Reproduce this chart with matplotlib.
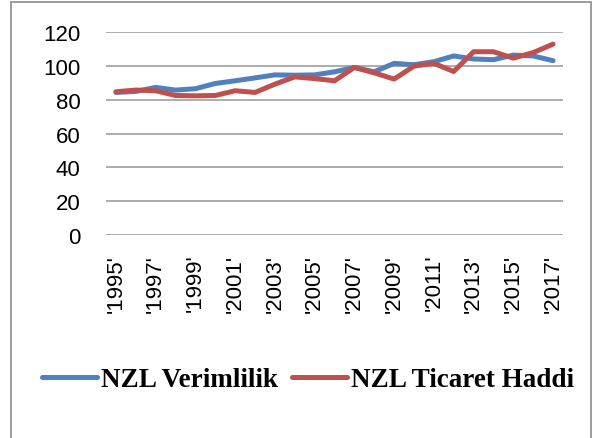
import matplotlib
matplotlib.use("Agg")
import matplotlib.pyplot as plt
from matplotlib.patches import Rectangle

years = list(range(1995, 2018))
verimlilik = [84.4, 85, 87.4, 85.8, 86.6, 89.7, 91.3, 93, 94.8, 94.6, 94.8, 96.6,
              99.2, 96.6, 101.6, 100.8, 102.6, 106, 104.2, 103.8, 106.5, 106, 103.2]
ticaret = [84.8, 85.8, 85.4, 82.6, 82.4, 82.6, 85.4, 84.4, 89.3, 93.6, 92.6, 91.3,
           99.2, 96, 92.3, 100, 101.6, 96.8, 108.5, 108.5, 104.7, 108, 113]
series_names = ["NZL Verimlilik", "NZL Ticaret Haddi"]
yticks = [0, 20, 40, 60, 80, 100, 120]

W, H = 598, 439
fig = plt.figure(figsize=(W / 100, H / 100), dpi=100)
ax = fig.add_axes([106 / W, 1 - 236 / H, (563 - 106) / W, (236 - 33.3) / H])

x = list(range(len(years)))
l1, = ax.plot(x, verimlilik, color="#4F81BD", lw=3.6, solid_capstyle="round",
              solid_joinstyle="round", label=series_names[0])
l2, = ax.plot(x, ticaret, color="#C0504D", lw=3.6, solid_capstyle="round",
              solid_joinstyle="round", label=series_names[1])

ax.set_xlim(-0.5, len(years) - 0.5)
ax.set_ylim(0, 120)
ax.set_yticks(yticks)
ax.set_yticklabels([str(v) for v in yticks], fontsize=16, family="Liberation Sans")
ax.set_xticks(x[::2])
ax.set_xticklabels(["'%d'" % y for y in years[::2]], rotation=90, fontsize=16,
                   family="Liberation Sans", va="top")
ax.tick_params(axis="y", length=0, pad=18.5)
ax.tick_params(axis="x", length=0, pad=13.5)
for s in ax.spines.values():
    s.set_visible(False)
ax.yaxis.grid(True, color="#a6a6a6", lw=1.3)
ax.set_axisbelow(True)

leg = fig.legend(handles=[l1, l2], loc="center", bbox_to_anchor=(308 / W, 1 - 381 / H),
                 ncol=2, frameon=False, handlelength=2.05, handletextpad=0.15,
                 columnspacing=0.5, prop={"family": "Liberation Serif", "weight": "bold", "size": 19.5})
for ln in leg.get_lines():
    ln.set_linewidth(3.6)

fig.patches.append(Rectangle((11 / W, -0.01), (591 - 11) / W, 1.01 - 3.3 / H,
                             transform=fig.transFigure, fill=False,
                             edgecolor="#8c8c8c", lw=1.2))

fig.savefig("out.png", dpi=100)
